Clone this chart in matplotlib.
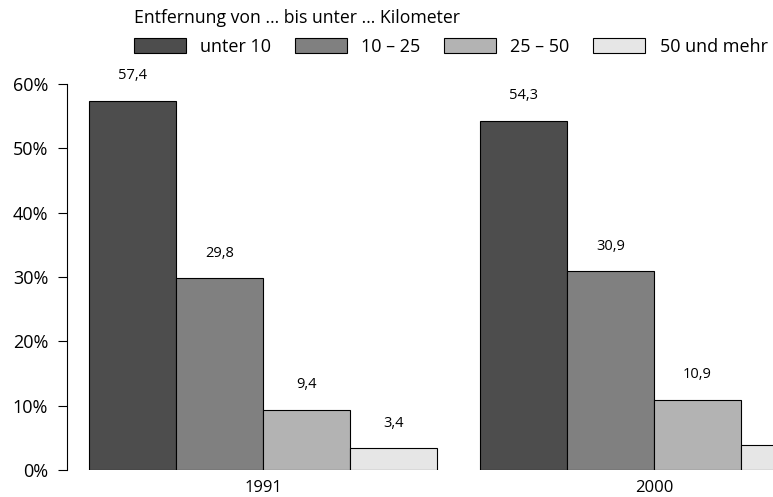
import matplotlib
matplotlib.use("Agg")
import matplotlib.pyplot as plt
import numpy as np

plt.rcParams['font.family'] = ['Open Sans', 'DejaVu Sans']

years = ["1991", "2000"]
categories = ["unter 10", "10 – 25", "25 – 50", "50 und mehr"]
values = {
    "unter 10": [57.4, 54.3],
    "10 – 25": [29.8, 30.9],
    "25 – 50": [9.4, 10.9],
    "50 und mehr": [3.4, 3.9],
}
colors = ["#4d4d4d", "#808080", "#b3b3b3", "#e6e6e6"]
yticks = [0, 10, 20, 30, 40, 50, 60]

fig = plt.figure(figsize=(7.73, 4.97), dpi=100)
ax = fig.add_axes([67/773, 27/497, 1 - 67/773, (470-84)/497])

x = np.arange(len(years))
w = 0.2225
for i, (cat, col) in enumerate(zip(categories, colors)):
    pos = x + (i - 1.5) * w
    ax.bar(pos, values[cat], width=w, color=col, edgecolor="black",
           linewidth=0.8, label=cat)
    for xp, v in zip(pos, values[cat]):
        ax.annotate(f"{v:.1f}".replace(".", ","), xy=(xp, v), xytext=(0, 18),
                    textcoords="offset points", ha="center", va="center",
                    fontsize=10.5)

ax.set_xlim(-0.501, 1.304)
ax.set_ylim(0, 60)
ax.set_yticks(yticks)
ax.set_yticklabels([f"{t}%" for t in yticks], fontsize=13)
ax.set_xticks(x)
ax.set_xticklabels(years, fontsize=12)
ax.tick_params(axis="x", length=0, pad=7.5)
ax.tick_params(axis="y", direction="out", length=6.5, width=0.8, pad=7)
for s in ["top", "right", "bottom"]:
    ax.spines[s].set_visible(False)
ax.spines["left"].set_bounds(0, 60)
ax.spines["left"].set_linewidth(0.8)

leg = fig.legend(loc="upper left", bbox_to_anchor=(123/773, 1.004), ncol=4,
                 title="Entfernung von … bis unter … Kilometer",
                 fontsize=13, title_fontsize=12.7, frameon=False,
                 handlelength=2.9, handleheight=0.9, handletextpad=0.78,
                 columnspacing=1.3, borderaxespad=0.2, labelspacing=0.6)
leg._legend_box.align = "left"

fig.savefig("out.png", dpi=100)
